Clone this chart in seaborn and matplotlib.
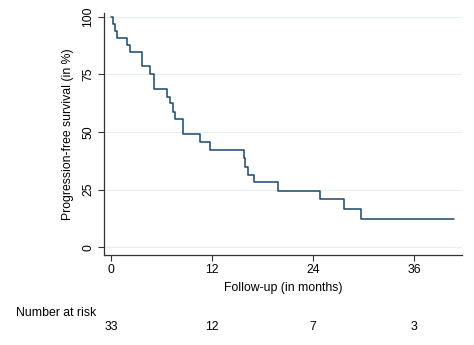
import matplotlib
matplotlib.use("Agg")
import matplotlib.pyplot as plt
import matplotlib.transforms as mtransforms
import numpy as np
import pandas as pd
import seaborn as sns

# Kaplan-Meier step data (months, survival %)
times = [0, 0.24, 0.44, 0.64, 1.90, 2.22, 3.65, 4.60, 5.10, 6.68, 6.98, 7.37,
         7.58, 8.49, 10.55, 11.74, 15.72, 15.90, 16.30, 17.00, 19.86, 24.82,
         27.68, 29.66, 40.76]
survival = [100, 97.0, 93.9, 90.9, 87.9, 84.8, 78.8, 75.0, 68.5, 65.3, 62.4, 58.8,
            55.5, 49.0, 45.8, 42.0, 38.7, 35.0, 31.4, 28.2, 24.6, 20.9,
            16.6, 12.3, 12.3]

risk_times = [0, 12, 24, 36]
risk_counts = [33, 12, 7, 3]
x_ticks = [0, 12, 24, 36]
y_ticks = [0, 25, 50, 75, 100]

sns.set_theme(style="white")
plt.rcParams['font.family'] = ['Liberation Sans', 'DejaVu Sans']
plt.rcParams['text.color'] = 'black'
plt.rcParams['axes.labelcolor'] = 'black'
plt.rcParams['xtick.color'] = 'black'
plt.rcParams['ytick.color'] = 'black'

df = pd.DataFrame({"time": times, "surv": survival})

fig = plt.figure(figsize=(4.74, 3.45), dpi=100)
ax = fig.add_axes([104/474, 1 - 254.7/345, (462 - 104)/474, (254.7 - 13)/345])

for yv in y_ticks:
    ax.axhline(yv, color="#e8eeee", lw=0.8, zorder=0)

sns.lineplot(data=df, x="time", y="surv", ax=ax, drawstyle="steps-post",
             color="#1a476f", lw=1.1, estimator=None, sort=False)

ax.set_xlim(-0.87, 41.7)
ax.set_ylim(-3.2, 101.6)
ax.set_xticks(x_ticks)
ax.set_yticks(y_ticks)
ax.set_xticklabels([str(v) for v in x_ticks], fontsize=8.8)
ax.set_yticklabels([str(v) for v in y_ticks], fontsize=8.8, rotation=90, va="center")
ax.tick_params(axis="both", direction="out", length=4, width=0.8, color="#333333",
               bottom=True, left=True, pad=3)
for s in ["top", "right"]:
    ax.spines[s].set_visible(False)
for s in ["left", "bottom"]:
    ax.spines[s].set_color("#333333")
    ax.spines[s].set_linewidth(0.9)

ax.set_xlabel("Follow-up (in months)", fontsize=8.8, labelpad=4)
ax.set_ylabel("Progression-free survival (in %)", fontsize=8.8, labelpad=6)

fig.text(16/474, 1 - 313/345, "Number at risk", fontsize=8.8, va="center", ha="left")
trans = mtransforms.blended_transform_factory(ax.transData, fig.transFigure)
for t, n in zip(risk_times, risk_counts):
    ax.text(t, 1 - 327/345, str(n), transform=trans, fontsize=8.8, ha="center", va="center")

fig.savefig("out.png", dpi=100)
